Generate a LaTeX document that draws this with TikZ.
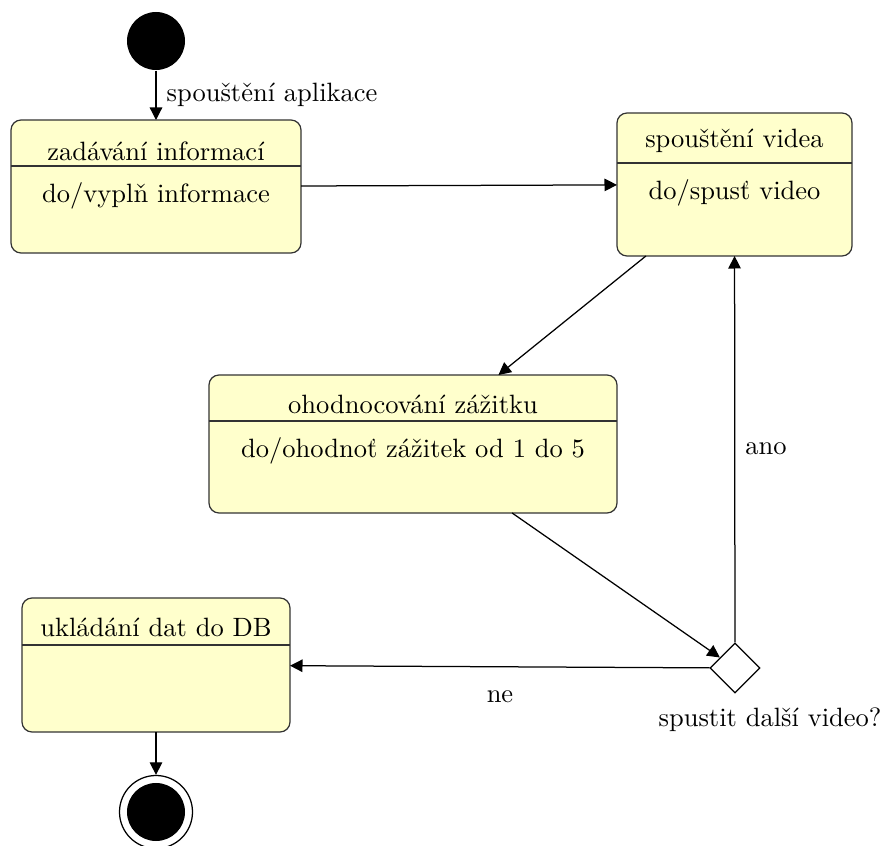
\documentclass[tikz,border=0pt]{standalone}
\usetikzlibrary{shapes.geometric,arrows.meta}
\definecolor{stfill}{RGB}{255,255,204}
\begin{document}
\begin{tikzpicture}[x=0.4pt,y=-0.4pt,line width=0.5pt,
  statebox/.style={draw=black!80,fill=stfill,rounded corners=4pt,inner sep=0pt,outer sep=0pt},
  txt/.style={inner sep=0pt,font=\fontsize{10.6}{13}\selectfont},
  arr/.style={-{Triangle[length=5pt,width=5pt]}},
  initst/.style={circle,fill=black,minimum size=23.2pt,inner sep=0pt},
  finalout/.style={circle,draw=black,fill=white,minimum size=29.2pt,inner sep=0pt},
  decision/.style={diamond,draw=black,fill=white,minimum width=20pt,minimum height=20pt,inner sep=0pt,aspect=1}]
\useasboundingbox (0,0) rectangle (882,846);
% states
\node[initst] (init) at (156,41) {};
\node[statebox,minimum width=116pt,minimum height=53.2pt] (b1) at (156,186.5) {};
\node[statebox,minimum width=94pt,minimum height=57.2pt] (b2) at (734.5,184.5) {};
\node[statebox,minimum width=163.2pt,minimum height=55.2pt] (b3) at (413,444) {};
\node[statebox,minimum width=107.2pt,minimum height=53.6pt] (b4) at (156,665) {};
\node[decision] (d) at (735,668) {};
\node[finalout] (fin) at (156,812) {};
\node[initst] (finin) at (156,812) {};
% dividers
\draw[black!80] (b1.west |- 0,166) -- (b1.east |- 0,166);
\draw[black!80] (b2.west |- 0,163) -- (b2.east |- 0,163);
\draw[black!80] (b3.west |- 0,421) -- (b3.east |- 0,421);
\draw[black!80] (b4.west |- 0,645) -- (b4.east |- 0,645);
% texts
\node[txt] (t1) at (156,151) {zadávání informací};
\node[txt] (s1) at (156,196) {do/vyplň informace};
\node[txt] (t2) at (734.5,141) {spouštění videa};
\node[txt] (s2) at (734.5,193) {do/spusť video};
\node[txt] (t3) at (413,404) {ohodnocování zážitku};
\node[txt] (s3) at (413,451) {do/ohodnoť zážitek od 1 do 5};
\node[txt] (t4) at (156,627) {ukládání dat do DB};
\node[txt] (dl) at (770,720) {spustit další video?};
% transitions
\draw[arr] (init) -- (b1) node[pos=0.5,right=4pt,txt] (l0) {spouštění aplikace};
\draw[arr] (b1) -- (b2);
\draw[arr] (b2) -- (b3);
\draw[arr] (b3) -- (d);
\draw[arr] (d) -- (b2);
\draw[arr] (d) -- (b4);
\draw[arr] (b4) -- (fin);
\node[txt] (lano) at (766,449) {ano};
\node[txt] (lne) at (500,697) {ne};
\end{tikzpicture}
\end{document}
